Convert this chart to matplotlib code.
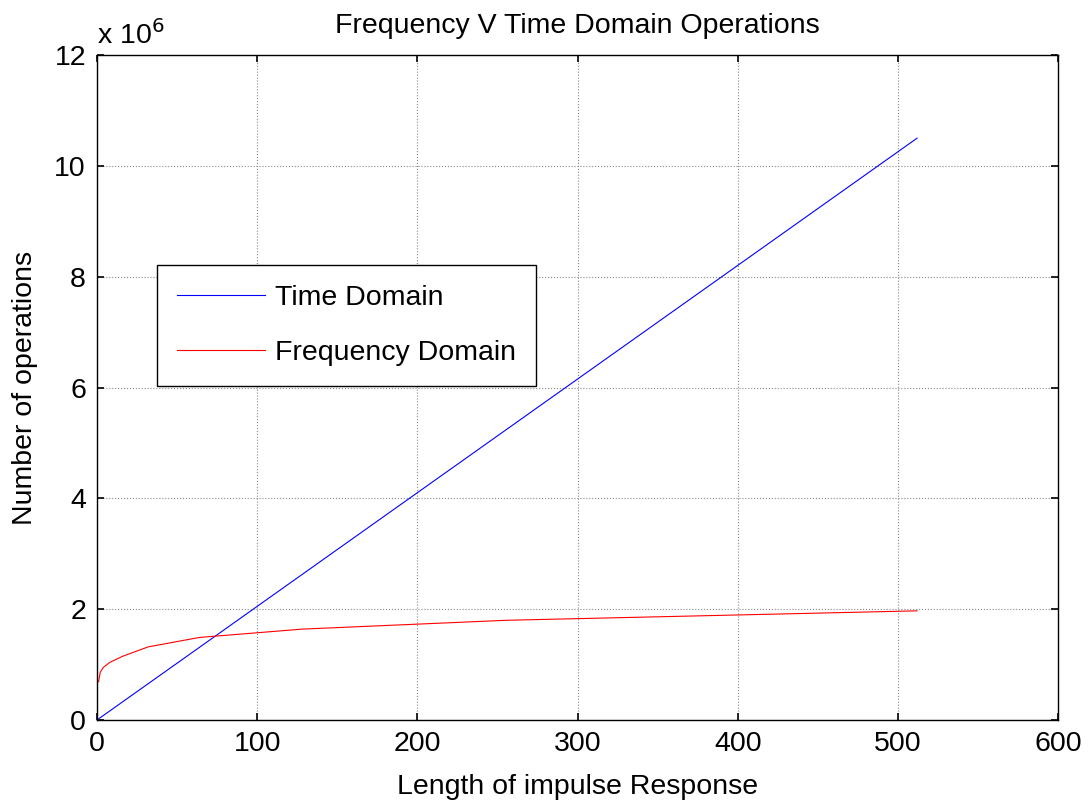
import matplotlib.pyplot as plt
from matplotlib.ticker import FuncFormatter

plt.rcParams['font.family'] = ['Liberation Sans', 'DejaVu Sans']

# impulse response lengths (powers of two)
lengths = [1, 2, 4, 8, 16, 32, 64, 128, 256, 512]
time_ops = [20500, 41000, 82000, 164000, 328000, 656000, 1312000, 2625000, 5250000, 10500000]
freq_ops = [690000, 860000, 950000, 1040000, 1150000, 1320000, 1490000, 1640000, 1800000, 1970000]

fs = 20.5

fig = plt.figure(figsize=(10.91, 8.07), dpi=100)
ax = fig.add_axes([0.0889, 0.1078, 0.8809, 0.824])

ax.plot(lengths, time_ops, color='blue', lw=0.8, label='Time Domain')
ax.plot(lengths, freq_ops, color='red', lw=0.8, label='Frequency Domain')

ax.set_xlim(0, 600)
ax.set_ylim(0, 12e6)
ax.set_xticks(range(0, 601, 100))
ax.set_yticks([i * 1e6 for i in range(0, 13, 2)])
ax.yaxis.set_major_formatter(FuncFormatter(lambda v, p: '%g' % (v / 1e6)))
ax.tick_params(direction='in', top=True, right=True, length=5, width=1.2,
               labelsize=fs, pad=8)
ax.grid(True, color='#888888', linestyle=':', lw=0.8)
for s in ax.spines.values():
    s.set_linewidth(1.0)

ax.text(0.0, 1.008, r'x 10$^{6}$', transform=ax.transAxes, fontsize=fs,
        ha='left', va='bottom')
ax.set_title('Frequency V Time Domain Operations', fontsize=fs, pad=16)
ax.set_xlabel('Length of impulse Response', fontsize=fs, labelpad=12)
ax.set_ylabel('Number of operations', fontsize=fs, labelpad=12)

leg = ax.legend(loc='upper left', bbox_to_anchor=(0.0624, 0.684), borderaxespad=0,
                fontsize=fs, frameon=True, fancybox=False, edgecolor='black',
                framealpha=1, handlelength=3.1, borderpad=0.7, labelspacing=1.0,
                handletextpad=0.35)
leg.get_frame().set_linewidth(1.0)

fig.savefig('out.png', dpi=100)
